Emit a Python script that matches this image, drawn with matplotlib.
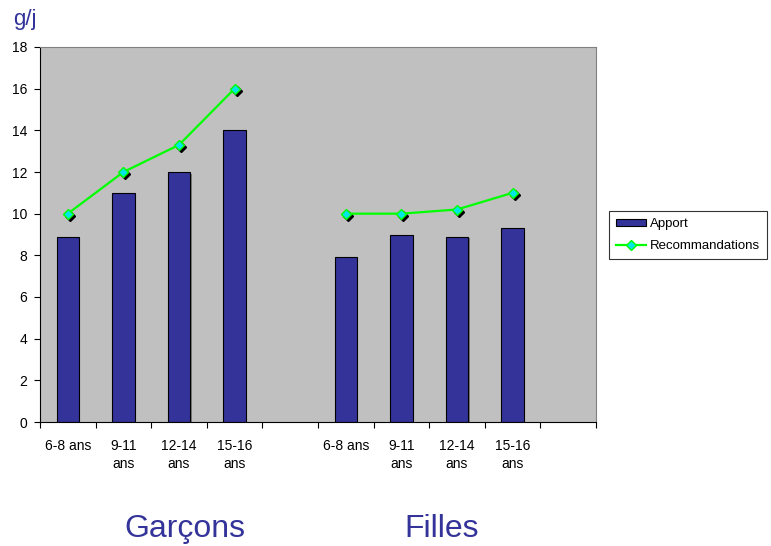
import numpy as np
import matplotlib
matplotlib.use("Agg")
import matplotlib.pyplot as plt
import matplotlib.transforms as mtransforms

plt.rcParams['font.family'] = ['Liberation Sans', 'DejaVu Sans']

# Apports et recommandations (g/j) par tranche d'âge
age_labels = ["6-8 ans", "9-11\nans", "12-14\nans", "15-16\nans"]
apport_garcons = [8.9, 11.0, 12.0, 14.0]
apport_filles = [7.9, 9.0, 8.9, 9.3]
reco_garcons = [10.0, 12.0, 13.3, 16.0]
reco_filles = [10.0, 10.0, 10.2, 11.0]
groupes = ["Garçons", "Filles"]

# une catégorie vide après chaque groupe
labels = age_labels + [""] + age_labels + [""]
apport = apport_garcons + [np.nan] + apport_filles + [np.nan]
reco = reco_garcons + [np.nan] + reco_filles + [np.nan]
x = np.arange(len(labels))

navy = '#333399'
green = '#00ff00'

fig = plt.figure(figsize=(7.71, 5.46), dpi=100)
ax = fig.add_axes([40 / 771, 1 - 422 / 546, 556 / 771, 375 / 546])
ax.set_facecolor('#c0c0c0')

# ombres des barres et des marqueurs
shadow = mtransforms.offset_copy(ax.transData, fig=fig, x=1.5, y=-1.5, units='dots')
ax.bar(x, apport, width=0.4, color='#7a7a7a', transform=shadow, zorder=1)
bars = ax.bar(x, apport, width=0.4, color=navy, edgecolor='black', linewidth=0.8,
              label='Apport', zorder=2)

mshadow = mtransforms.offset_copy(ax.transData, fig=fig, x=2, y=-2, units='dots')
ax.plot(x, reco, linestyle='none', marker='D', markersize=5, color='black',
        transform=mshadow, zorder=3)
line, = ax.plot(x, reco, color=green, linewidth=1.6, marker='D', markersize=5,
                markerfacecolor='#00e5e5', markeredgecolor=green, markeredgewidth=1,
                label='Recommandations', zorder=4)

ax.set_xlim(-0.5, len(labels) - 0.5)
ax.set_ylim(0, 18)
ax.set_yticks(np.arange(0, 19, 2))
ax.set_xticks(np.arange(-0.5, len(labels), 1.0))
ax.set_xticklabels([])
ax.set_xticks(x, minor=True)
ax.set_xticklabels(labels, minor=True, linespacing=1.4)
ax.tick_params(axis='x', which='minor', length=0, pad=12, labelsize=10)
ax.tick_params(axis='x', which='major', length=4, direction='out', width=0.8)
ax.tick_params(axis='y', length=4, direction='out', width=0.8, pad=5, labelsize=10)

for side in ['top', 'right']:
    ax.spines[side].set_color('#808080')
for side in ['left', 'bottom']:
    ax.spines[side].set_color('black')

leg = ax.legend([bars, line], ['Apport', 'Recommandations'],
                loc='center left', bbox_to_anchor=(609 / 771, 1 - 235 / 546),
                bbox_transform=fig.transFigure, fontsize=9.5, frameon=True,
                fancybox=False, borderpad=0.5, handlelength=2.3,
                handleheight=0.5, handletextpad=0.3, labelspacing=0.75,
                borderaxespad=0)
leg.get_frame().set_edgecolor('black')
leg.get_frame().set_linewidth(0.8)

fig.text(13 / 771, 1 - 19 / 546, "g/j", color=navy, fontsize=16, va='center', ha='left')
fig.text(185 / 771, 1 - 529 / 546, groupes[0], color=navy, fontsize=23, va='center', ha='center')
fig.text(442 / 771, 1 - 529 / 546, groupes[1], color=navy, fontsize=23, va='center', ha='center')

fig.savefig('out.png', dpi=100)
